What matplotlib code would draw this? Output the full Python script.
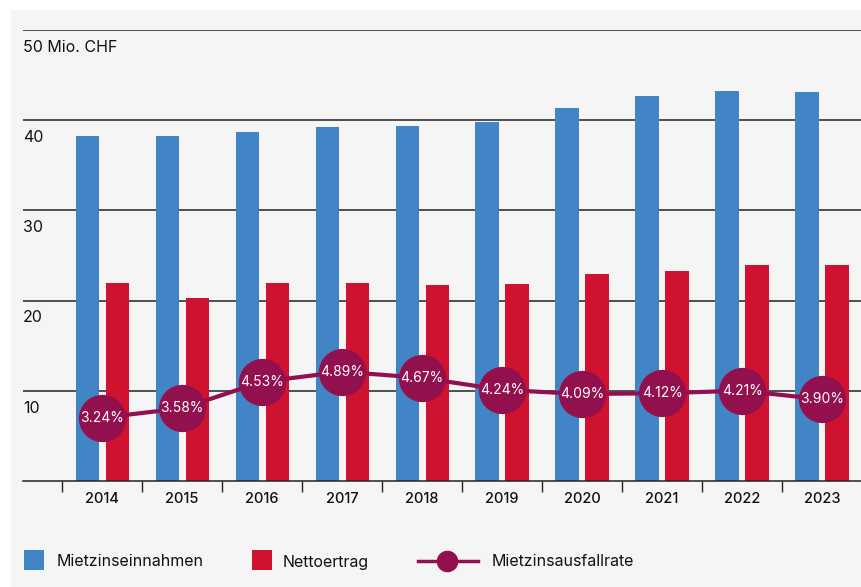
import numpy as np
import matplotlib.pyplot as plt
from matplotlib.patches import Rectangle
from matplotlib.lines import Line2D
import matplotlib.transforms as mtransforms

plt.rcParams['font.family'] = ['Inter', 'DejaVu Sans']

# data
years = ['2014', '2015', '2016', '2017', '2018', '2019', '2020', '2021', '2022', '2023']
einnahmen = [38.2, 38.2, 38.7, 39.2, 39.4, 39.8, 41.4, 42.7, 43.2, 43.1]  # Mio. CHF
nettoertrag = [22.0, 20.3, 21.9, 22.0, 21.7, 21.8, 23.0, 23.3, 24.0, 24.0]  # Mio. CHF
ausfallrate = [3.24, 3.58, 4.53, 4.89, 4.67, 4.24, 4.09, 4.12, 4.21, 3.90]  # %
y_ticks = [10, 20, 30, 40, 50]
y_labels = ['10', '20', '30', '40', '50 Mio. CHF']
legend_labels = ['Mietzinseinnahmen', 'Nettoertrag', 'Mietzinsausfallrate']

#colours
c_blue = '#4285c6'
c_red = '#ce1230'
c_line = '#93104e'
c_bg = '#f5f5f5'

W, H = 862, 587
fig = plt.figure(figsize=(W / 100, H / 100), dpi=100)
fig.patch.set_facecolor('white')
fig.patches.append(Rectangle((11 / W, 0), 1, 1 - 10 / H, transform=fig.transFigure,
                             facecolor=c_bg, edgecolor='none', zorder=-10))

ax = fig.add_axes([23 / W, 1 - 481 / H, 1 - 23 / W, (481 - 30) / H])
ax.set_facecolor('none')

x = np.arange(len(years))
w = 0.29
ax.bar(x - 0.1875, einnahmen, w, color=c_blue, zorder=2)
ax.bar(x + 0.1875, nettoertrag, w, color=c_red, zorder=2)

ax.set_xlim(-0.99, 9.5)
ax.set_ylim(0, 50)

for v in y_ticks:
    ax.axhline(v, color='#222222', lw=1.1, zorder=1)
ax.set_yticks([])

# labels below gridlines
off = mtransforms.offset_copy(ax.get_yaxis_transform(), fig=fig, x=0, y=-7, units='points')
for v, lab in zip(y_ticks, y_labels):
    ax.text(0.0, v, lab, transform=off, ha='left', va='top', fontsize=11.5, color='#111111')

# x axis
for s in ['top', 'right', 'left']:
    ax.spines[s].set_visible(False)
ax.spines['bottom'].set_color('#222222')
ax.spines['bottom'].set_linewidth(1.1)
ax.set_xticks(np.arange(-0.5, 10, 1), minor=False)
ax.set_xticklabels([])
ax.tick_params(axis='x', which='major', length=8, width=1, color='#222222', direction='out')
ax.set_xticks(x, minor=True)
ax.set_xticklabels(years, minor=True, fontsize=10.5, fontweight='medium', color='#111111')
ax.tick_params(axis='x', which='minor', length=0, pad=8)

# rate line on secondary scale
ax2 = ax.twinx()
ax2.set_ylim(0.97, 17.15)
ax2.axis('off')
ax2.plot(x, ausfallrate, color=c_line, lw=3, marker='o', markersize=33,
         markerfacecolor=c_line, markeredgecolor=c_line, zorder=3, clip_on=False)
for xi, r in zip(x, ausfallrate):
    ax2.text(xi, r, f'{r:.2f}%', ha='center', va='center', color='white', fontsize=10, zorder=4)

# legend (drawn by hand, pixel layout)
def fx(px):
    return px / W

def fy(py):
    return 1 - py / H

ly = 561
fig.add_artist(Rectangle((fx(24), fy(570)), 20 / W, 20 / H, transform=fig.transFigure,
                         facecolor=c_blue, edgecolor='none'))
fig.add_artist(Rectangle((fx(252), fy(570)), 20 / W, 20 / H, transform=fig.transFigure,
                         facecolor=c_red, edgecolor='none'))
fig.add_artist(Line2D([fx(418), fx(478)], [fy(ly), fy(ly)], transform=fig.transFigure,
                      color=c_line, lw=2.5))
fig.add_artist(Line2D([fx(447)], [fy(ly)], transform=fig.transFigure, marker='o',
                      markersize=14.5, color=c_line, lw=0))
for px, lab in zip([57, 283, 492], legend_labels):
    fig.text(fx(px), fy(ly + 1), lab, ha='left', va='center', fontsize=11.5, color='#111111')

fig.savefig('out.png', dpi=100, facecolor=fig.get_facecolor())
